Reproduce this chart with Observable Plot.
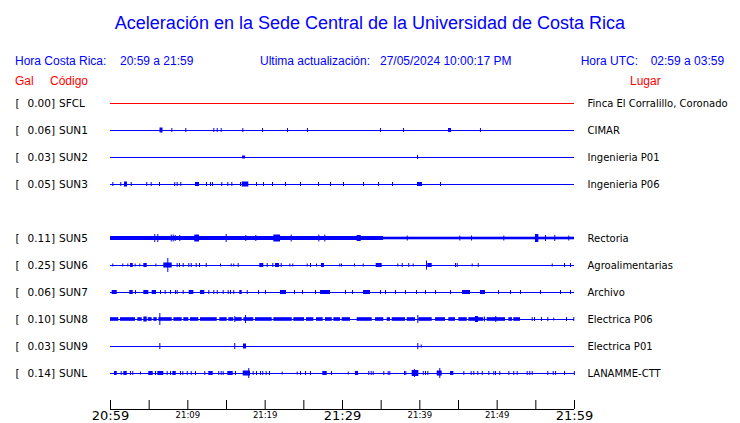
<!DOCTYPE html>
<html><head><meta charset="utf-8">
<script src="https://cdn.jsdelivr.net/npm/d3@7"></script>
<script src="https://cdn.jsdelivr.net/npm/@observablehq/plot@0.6"></script>
<style>
body{margin:0;background:#fff;}
#wrap{position:relative;width:740px;height:423px;overflow:hidden;background:#fff;}
#hdr{position:relative;width:740px;height:90px;font-family:"Liberation Sans",Arial,sans-serif;}
.t{position:absolute;white-space:pre;line-height:1;}
#chart svg{display:block;}
</style></head><body>
<div id="wrap"><div id="hdr"></div><div id="chart"></div></div>
<script>
// ---------- texts ----------
const title = "Aceleración en la Sede Central de la Universidad de Costa Rica";
const headerLabels = ["Hora Costa Rica:", "20:59 a 21:59", "Ultima actualización:", "27/05/2024 10:00:17 PM", "Hora UTC:", "02:59 a 03:59"];
const columnLabels = ["Gal", "Código", "Lugar"];

// ---------- stations ----------
const codes  = ["SFCL","SUN1","SUN2","SUN3","SUN5","SUN6","SUN7","SUN8","SUN9","SUNL"];
const peaks  = ["0.00","0.06","0.03","0.05","0.11","0.25","0.06","0.10","0.03","0.14"];
const places = ["Finca El Corralillo, Coronado","CIMAR","Ingenieria P01","Ingenieria P06","Rectoria","Agroalimentarias","Archivo","Electrica P06","Electrica P01","LANAMME-CTT"];
const slots  = [0,1,2,3,5,6,7,8,9,10];   // row order (slot 4 = no station)

// ---------- time axis (minutes after 20:59) ----------
const tickMinutes = [0,5,10,15,20,25,30,35,40,45,50,55,60];
const bigLabels   = [[0,"20:59"],[30,"21:29"],[60,"21:59"]];
const smallLabels = [[10,"21:09"],[20,"21:19"],[40,"21:39"],[50,"21:49"]];

// ---------- traces: spikes [minute, amplitude] and bursts [from, to, amplitude] ----------
const sfclSpikes = [];
const sfclBlocks = [];
const sun1Spikes = [[7.93,2],[9.74,2],[13.36,2],[13.8,2],[14.31,2],[17.11,2],[19.66,2],[22.89,2],[25.47,2],[34.91,2],[37.89,2],[47.84,2]];
const sun1Blocks = [[6.4,6.79,2.5],[43.71,44.1,2]];
const sun2Spikes = [[39.7,2]];
const sun2Blocks = [[17.07,17.46,1.5]];
const sun3Spikes = [[0.3,2],[1.33,2],[2.68,2],[4.69,2],[5.26,2],[6.34,2],[8.31,2],[8.62,2],[9.09,2],[12.41,2],[12.93,2],[13.19,2],[14.39,2],[15.17,2],[15.69,2],[16.81,2],[18.88,2],[19.78,2],[20.95,2],[22.63,2],[24.57,2],[26.9,2],[28.45,2],[30.13,2],[32.72,2],[34.66,2],[36.47,2],[42.67,2]];
const sun3Blocks = [[1.81,2.2,2.5],[10.99,11.51,2],[17.03,17.88,2.5],[39.7,40.34,2]];
const sun5Spikes = [[5.73,4],[6.12,4],[7.85,3.5],[8.11,3.5],[8.37,3],[8.96,3],[14.96,4],[17.5,3],[18.79,3],[23.37,3.5],[26.94,3.5],[27.71,3.5],[38.37,2.5],[45.17,2.5],[46.68,2.5],[50.86,2.5],[56.25,3],[57.45,3],[59.26,2.5]];
const sun5Blocks = [[0,35.3,2],[35.3,60,1.3],[10.9,11.51,3.5],[21.12,21.98,3.5],[31.9,32.42,3],[54.96,55.39,4]];
const sun6Spikes = [[0.3,1.5],[1.59,1.5],[2.24,1.5],[3.19,1.5],[3.79,1.5],[5.86,1.5],[7.41,7],[8.62,2],[8.92,2],[9.4,2],[10.13,2],[10.44,2],[11.08,2],[11.51,2],[12.38,2],[14.22,1.5],[15.61,1.5],[15.94,1.5],[16.51,2],[20.26,2],[20.99,2],[22.07,2],[23.19,1.5],[23.57,1.5],[25.44,1.5],[25.86,2],[26.64,1.5],[29.65,1.5],[29.87,1.5],[31.55,1.5],[32.68,1.5],[37.15,1.5],[37.72,2],[38.57,2],[39.14,1.5],[40.86,4.5],[44.61,2],[44.83,2],[46.77,1.5],[47.55,2],[57.12,1.5],[58.71,2],[59.48,2]];
const sun6Blocks = [[2.59,2.94,2],[4.31,4.75,2],[6.89,7.98,2.5],[19.31,19.82,2],[21.34,21.85,2],[27.28,27.67,2],[34.36,35.13,2],[41.03,41.6,2]];
const sun7Spikes = [[3.23,2],[6.47,2],[7.07,2],[7.76,2],[8.41,2],[8.62,2],[9.4,2],[12.71,2],[13.36,2],[13.8,2],[14.57,2],[15.22,2],[15.52,2],[15.94,2],[17.68,2],[19.14,2],[20.04,2],[23.79,2],[24.83,2],[26.51,2],[30.39,2],[31.29,2],[34.91,2],[35.56,2],[36.85,2],[38.15,2],[39.57,2],[40.73,2],[42.03,2],[43.97,2],[50.17,2],[51.72,2],[53.02,2],[55.6,2],[58.19,2],[59.48,2]];
const sun7Blocks = [[0.22,0.87,2],[2.5,2.94,2],[4.31,4.95,2],[5.39,5.95,2],[10.18,10.77,2],[11.64,12.19,2],[16.72,17.03,2],[21.98,22.76,2],[27.16,28.45,2],[32.72,33.62,2],[45.52,46.55,2],[47.84,48.49,2]];
const sun8Spikes = [[6.38,6],[16.07,3],[17.46,4],[39.74,4],[48.36,2.5],[49.82,3],[54.53,2],[54.83,2],[55.73,2],[56.55,2],[57.32,1.5],[58.97,2],[59.91,2]];
const sun8Blocks = [[0,1.07,1.8],[1.29,3.23,1.8],[3.53,4.1,1.8],[4.31,4.75,2.5],[4.88,5.39,1.8],[5.6,6.04,1.8],[6.25,7.98,1.8],[8.19,9.27,1.8],[9.48,10.13,1.8],[10.34,11.42,1.8],[11.64,13.8,1.8],[14.13,15.09,1.8],[15.3,15.94,1.8],[16.16,17.03,1.8],[17.24,18.53,1.8],[18.75,20.91,1.8],[21.12,23.5,1.8],[23.7,25.09,1.8],[25.34,26.29,1.8],[26.64,27.5,1.8],[27.8,28.67,1.8],[28.88,29.74,1.8],[29.96,31.03,1.8],[31.9,33.84,1.8],[34.27,35.34,1.8],[35.78,36.21,1.8],[36.43,38.15,1.8],[38.37,39.44,1.8],[39.87,41.6,1.8],[42.03,43.32,1.8],[43.75,44.61,1.8],[45.04,46.13,1.8],[46.33,48.27,1.8],[47.2,47.59,3],[48.71,51.08,1.8],[51.51,51.98,1.8],[52.15,53.02,1.8]];
const sun9Spikes = [[6.38,3],[16.07,3],[39.74,3],[40.18,1.5]];
const sun9Blocks = [[17.2,17.59,2.5]];
const sunlSpikes = [[1.38,2],[2.59,2],[2.88,2],[3.88,1.5],[5.82,2],[7.33,2],[7.76,2],[9.05,2],[9.35,2],[9.92,2],[10.44,2],[10.99,2],[12.19,2],[14.0,2],[14.31,2],[14.57,2],[16.16,2],[17.88,5],[18.45,2],[18.88,2],[19.4,2],[19.69,2],[20.13,2],[20.56,2],[22.2,1.5],[24.14,1.5],[24.57,2],[25.22,2],[25.86,2],[28.58,2],[30.74,1.5],[33.4,2],[33.71,2],[33.97,2],[35.34,2],[35.91,2],[36.12,2],[38.02,2],[38.19,2],[39.3,4],[40.44,2],[40.73,2],[41.03,2],[42.58,5],[45.69,2],[46.64,2],[46.98,2],[47.5,2],[48.07,2],[48.92,2],[49.57,2],[49.79,2],[50.34,2],[51.51,2],[52.15,2],[52.59,2],[53.88,2],[54.22,2],[54.53,2],[56.55,2],[57.25,2],[57.55,2],[58.71,2],[59.98,2]];
const sunlBlocks = [[0.52,0.87,2],[1.72,2.16,2],[4.95,5.52,2],[6.12,6.89,2],[8.06,8.5,2],[12.71,13.28,2],[15.17,15.87,2],[17.16,18.1,2.5],[27.45,28.02,2],[31.68,32.07,2],[39.01,39.87,3],[42.25,42.89,2.5],[43.97,44.39,2]];

const spikeSets = [sfclSpikes,sun1Spikes,sun2Spikes,sun3Spikes,sun5Spikes,sun6Spikes,sun7Spikes,sun8Spikes,sun9Spikes,sunlSpikes];
const blockSets = [sfclBlocks,sun1Blocks,sun2Blocks,sun3Blocks,sun5Blocks,sun6Blocks,sun7Blocks,sun8Blocks,sun9Blocks,sunlBlocks];

// ---------- build tables ----------
const AMP = 1/27; // amplitude unit in row spacings
const BLUE = "#0000ff", RED = "#ff0000";
const stations = codes.map((c,i)=>({code:c, peak:peaks[i]+"]", place:places[i], slot:slots[i], color: i===0 ? RED : BLUE}));
const spikes = spikeSets.flatMap((arr,i)=>arr.map(([m,a])=>({m, y1:slots[i]-a*AMP, y2:slots[i]+a*AMP, color:stations[i].color})));
const blocks = blockSets.flatMap((arr,i)=>arr.map(([m1,m2,a])=>({m1, m2, y1:slots[i]-a*AMP, y2:slots[i]+a*AMP, color:stations[i].color})));
const AXIS_Y = 11 + 9/27, TICK_TOP = 11;

// ---------- header ----------
const hdr = document.getElementById("hdr");
function addText(txt, left, top, size, color, center){
  const d = document.createElement("div");
  d.className = "t"; d.textContent = txt;
  d.style.top = top+"px"; d.style.fontSize = size+"px"; d.style.color = color;
  if (center){ d.style.left="0"; d.style.width="740px"; d.style.textAlign="center"; }
  else d.style.left = left+"px";
  hdr.appendChild(d);
}
addText(title, 0, 13.8, 18, BLUE, true);
const headLeft = [15,120,260,380,580.7,650.7];
headerLabels.forEach((t,i)=>addText(t, headLeft[i], 54.8, 12, BLUE));
const colLeft = [15,50,630];
columnLabels.forEach((t,i)=>addText(t, colLeft[i], 74.8, 12, RED));

// ---------- plot ----------
const chart = Plot.plot({
  width: 740, height: 333,
  marginTop: 0, marginBottom: 0, marginLeft: 0, marginRight: 0,
  style: {fontFamily: "'DejaVu Sans', sans-serif", background: "white", overflow: "visible"},
  x: {domain: [0,60], range: [110,574], axis: null},
  y: {domain: [0,11], range: [13,310], axis: null},
  marks: [
    Plot.ruleY(stations, {y: "slot", x1: 0, x2: 60, stroke: "color", strokeWidth: 1}),
    Plot.rect(blocks, {x1: "m1", x2: "m2", y1: "y1", y2: "y2", fill: "color"}),
    Plot.ruleX(spikes, {x: "m", y1: "y1", y2: "y2", stroke: "color", strokeWidth: 1}),
    Plot.text(stations, {x: 0, y: "slot", text: () => "[", dx: -95, textAnchor: "start", fontSize: 10.5, fill: "black"}),
    Plot.text(stations, {x: 0, y: "slot", text: "peak", dx: -55.5, textAnchor: "end", fontSize: 10.5, fill: "black"}),
    Plot.text(stations, {x: 0, y: "slot", text: "code", dx: -51.5, textAnchor: "start", fontSize: 10.5, fill: "black"}),
    Plot.text(stations, {x: 60, y: "slot", text: "place", dx: 13, textAnchor: "start", fontSize: 10, fill: "black"}),
    Plot.ruleY([AXIS_Y], {x1: 0, x2: 60, stroke: "black", strokeWidth: 1}),
    Plot.ruleX(tickMinutes, {x: d => d, y1: TICK_TOP, y2: AXIS_Y, stroke: "black", strokeWidth: 1}),
    Plot.text(bigLabels, {x: d => d[0], y: AXIS_Y, text: d => d[1], lineAnchor: "top", dy: 1.5, fontSize: 13, fill: "black"}),
    Plot.text(smallLabels, {x: d => d[0], y: AXIS_Y, text: d => d[1], lineAnchor: "top", dy: 2.5, fontSize: 8.5, fill: "black"})
  ]
});
document.getElementById("chart").appendChild(chart);
</script>
</body></html>
